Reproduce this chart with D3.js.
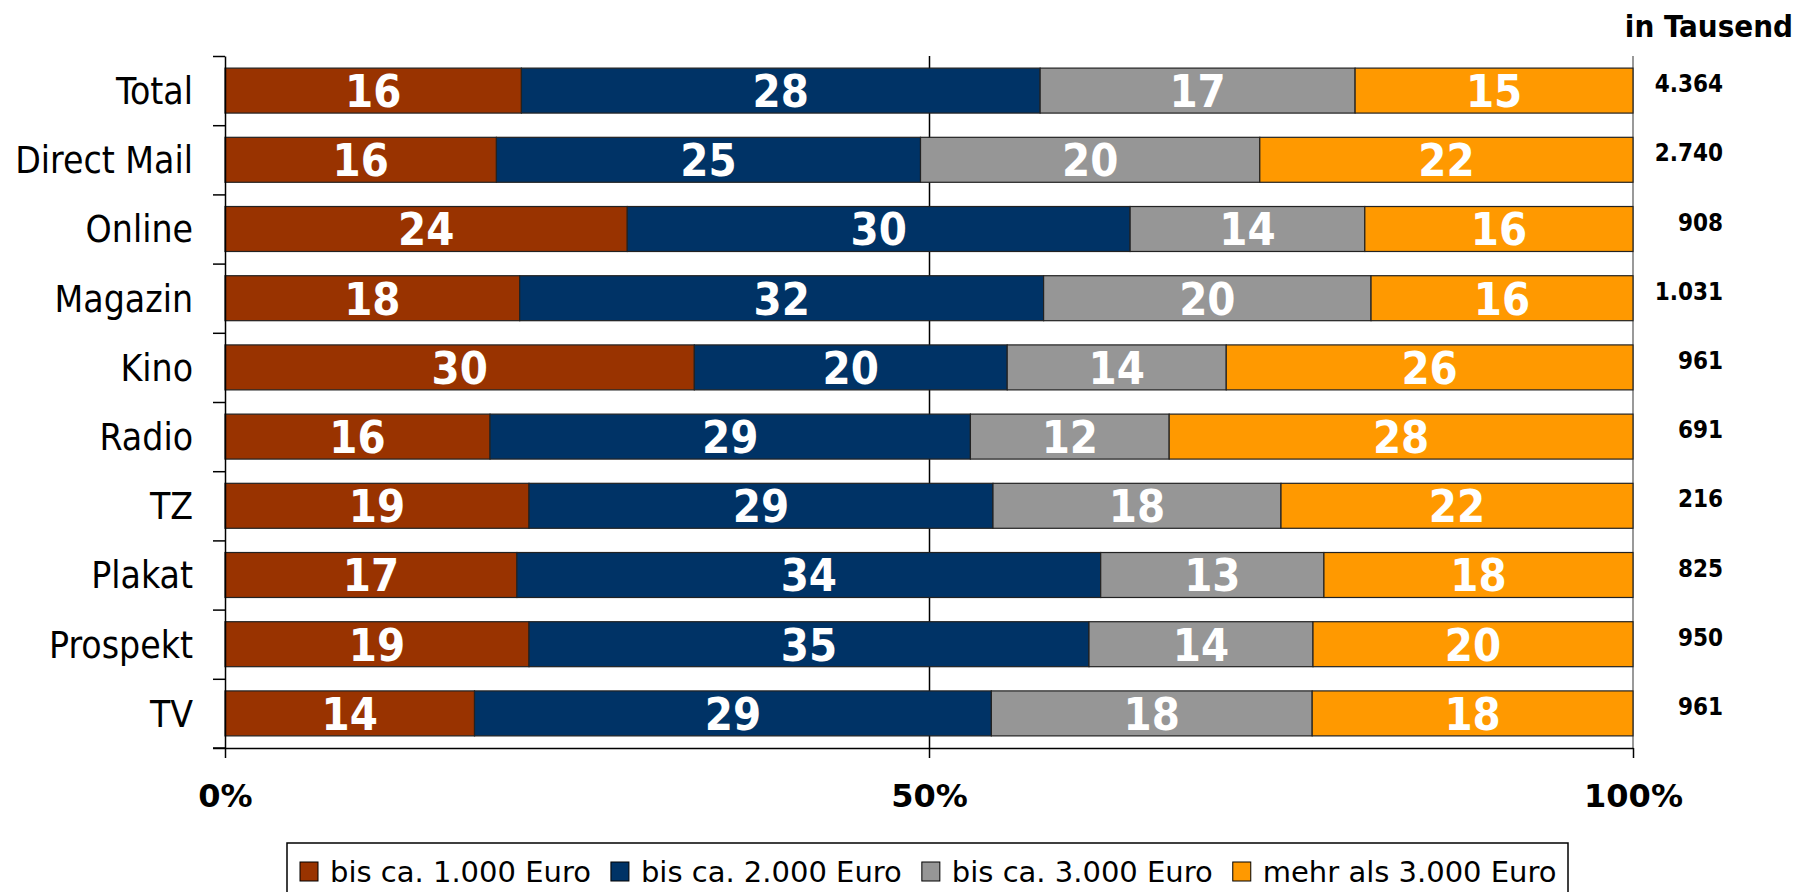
<!DOCTYPE html>
<html>
<head>
<meta charset="utf-8">
<script src="https://cdn.jsdelivr.net/npm/d3@7"></script>
<style>
  body { margin: 0; background: #fff; }
  svg { display: block; }
</style>
</head>
<body>
<div id="chart"></div>
<script>
// chart data
var categories = ["Total", "Direct Mail", "Online", "Magazin", "Kino", "Radio", "TZ", "Plakat", "Prospekt", "TV"];
var bis1000 = [16, 16, 24, 18, 30, 16, 19, 17, 19, 14];
var bis2000 = [28, 25, 30, 32, 20, 29, 29, 34, 35, 29];
var bis3000 = [17, 20, 14, 20, 14, 12, 18, 13, 14, 18];
var mehr3000 = [15, 22, 16, 16, 26, 28, 22, 18, 20, 18];
var totals = ["4.364", "2.740", "908", "1.031", "961", "691", "216", "825", "950", "961"];
var seriesNames = ["bis ca. 1.000 Euro", "bis ca. 2.000 Euro", "bis ca. 3.000 Euro", "mehr als 3.000 Euro"];
var xTicks = [0, 0.5, 1];

var palette = ["#993300", "#003366", "#969696", "#FF9900"];
var condensed = "'DejaVu Sans Condensed', 'DejaVu Sans', sans-serif";

var W = 1811, H = 892;
var plot = {left: 225, right: 1633, top: 56, bottom: 748};

var svg = d3.select("#chart").append("svg")
  .attr("width", W)
  .attr("height", H);

// rows for the stack, one object per category
var rows = categories.map(function(c, i) {
  return {cat: c, s0: bis1000[i], s1: bis2000[i], s2: bis3000[i], s3: mehr3000[i]};
});
var keys = ["s0", "s1", "s2", "s3"];
var stacked = d3.stack().keys(keys).offset(d3.stackOffsetExpand)(rows);

var x = d3.scaleLinear().domain([0, 1]).range([plot.left, plot.right]);
var y = d3.scaleBand().domain(categories)
  .range([plot.top, plot.bottom])
  .paddingInner(0.35).paddingOuter(0.175);
var yb = d3.scaleLinear().domain([0, categories.length]).range([plot.top, plot.bottom]);

// gridlines at 50% and 100%
svg.append("line")
  .attr("x1", Math.round(x(0.5)) + 0.5).attr("x2", Math.round(x(0.5)) + 0.5)
  .attr("y1", plot.top).attr("y2", plot.bottom)
  .attr("stroke", "#000").attr("stroke-width", 1.5);
svg.append("line")
  .attr("x1", x(1)).attr("x2", x(1))
  .attr("y1", plot.top).attr("y2", plot.bottom)
  .attr("stroke", "#777").attr("stroke-width", 1.5);

// bars
var layer = svg.append("g").selectAll("g")
  .data(stacked).enter().append("g")
  .attr("fill", function(d, i) { return palette[i]; });

layer.selectAll("rect")
  .data(function(d) { return d; })
  .enter().append("rect")
  .attr("x", function(d) { return x(d[0]); })
  .attr("y", function(d) { return y(d.data.cat); })
  .attr("width", function(d) { return x(d[1]) - x(d[0]); })
  .attr("height", y.bandwidth())
  .attr("stroke", "#222")
  .attr("stroke-width", 1.2);

// value labels inside the bars
var labFont = 45;
layer.selectAll("text")
  .data(function(d) { var k = d.key; return d.map(function(p) { return {p: p, v: p.data[k]}; }); })
  .enter().append("text")
  .attr("x", function(d) { return (x(d.p[0]) + x(d.p[1])) / 2; })
  .attr("y", function(d) { return y(d.p.data.cat) + y.bandwidth() / 2 + labFont * 0.3645; })
  .attr("text-anchor", "middle")
  .attr("font-family", condensed).attr("font-weight", "bold")
  .attr("font-size", labFont + "px")
  .attr("fill", "#fff")
  .text(function(d) { return d.v; });

// left axis: ticks between categories
svg.append("g")
  .attr("transform", "translate(" + plot.left + ",0)")
  .call(d3.axisLeft(yb).tickValues(d3.range(0, categories.length + 1)).tickSize(12).tickSizeOuter(0).tickFormat(""))
  .call(function(g) {
    g.select(".domain").attr("stroke", "#000").attr("stroke-width", 1.5);
    g.selectAll(".tick line").attr("stroke", "#000").attr("stroke-width", 1.5);
  });

// category labels
svg.append("g").selectAll("text")
  .data(categories).enter().append("text")
  .attr("x", 193)
  .attr("y", function(d) { return y(d) + y.bandwidth() / 2 + 37 * 0.3645; })
  .attr("text-anchor", "end")
  .attr("font-family", condensed)
  .attr("font-size", "37px")
  .attr("fill", "#000")
  .text(function(d) { return d; });

// bottom axis
svg.append("g")
  .attr("transform", "translate(0," + plot.bottom + ")")
  .call(d3.axisBottom(x).tickValues(xTicks).tickSize(10).tickSizeOuter(0).tickFormat(d3.format(".0%")))
  .call(function(g) {
    g.select(".domain").attr("stroke", "#000").attr("stroke-width", 1.5);
    g.selectAll(".tick line").attr("stroke", "#000").attr("stroke-width", 1.5);
    g.selectAll(".tick text")
      .attr("y", 59).attr("dy", null)
      .attr("font-family", "'DejaVu Sans', sans-serif")
      .attr("font-weight", "bold").attr("font-size", "32px")
      .attr("fill", "#000");
  });
// extend the bottom line out to the left tick
svg.append("line")
  .attr("x1", plot.left - 12).attr("x2", plot.left)
  .attr("y1", plot.bottom).attr("y2", plot.bottom)
  .attr("stroke", "#000").attr("stroke-width", 1.5);

// totals on the right
svg.append("text")
  .attr("x", 1793).attr("y", 37)
  .attr("text-anchor", "end")
  .attr("font-family", condensed).attr("font-weight", "bold")
  .attr("font-size", "31px")
  .text("in Tausend");

svg.append("g").selectAll("text")
  .data(totals).enter().append("text")
  .attr("x", 1723)
  .attr("y", function(d, i) { return y(categories[i]) + y.bandwidth() / 2 + 1.5; })
  .attr("text-anchor", "end")
  .attr("font-family", condensed).attr("font-weight", "bold")
  .attr("font-size", "24px")
  .text(function(d) { return d; });

// legend
var legend = svg.append("g");
legend.append("rect")
  .attr("x", 287).attr("y", 843)
  .attr("width", 1568 - 287).attr("height", 70)
  .attr("fill", "#fff").attr("stroke", "#000").attr("stroke-width", 1.5);

var lx = 300;
seriesNames.forEach(function(name, i) {
  legend.append("rect")
    .attr("x", lx).attr("y", 862)
    .attr("width", 18).attr("height", 19)
    .attr("fill", palette[i]).attr("stroke", "#000").attr("stroke-width", 1);
  var t = legend.append("text")
    .attr("x", lx + 30).attr("y", 882)
    .attr("font-family", "'DejaVu Sans', sans-serif")
    .attr("font-size", "29px")
    .attr("fill", "#000")
    .text(name);
  lx = lx + 30 + t.node().getComputedTextLength() + 20;
});
</script>
</body>
</html>
